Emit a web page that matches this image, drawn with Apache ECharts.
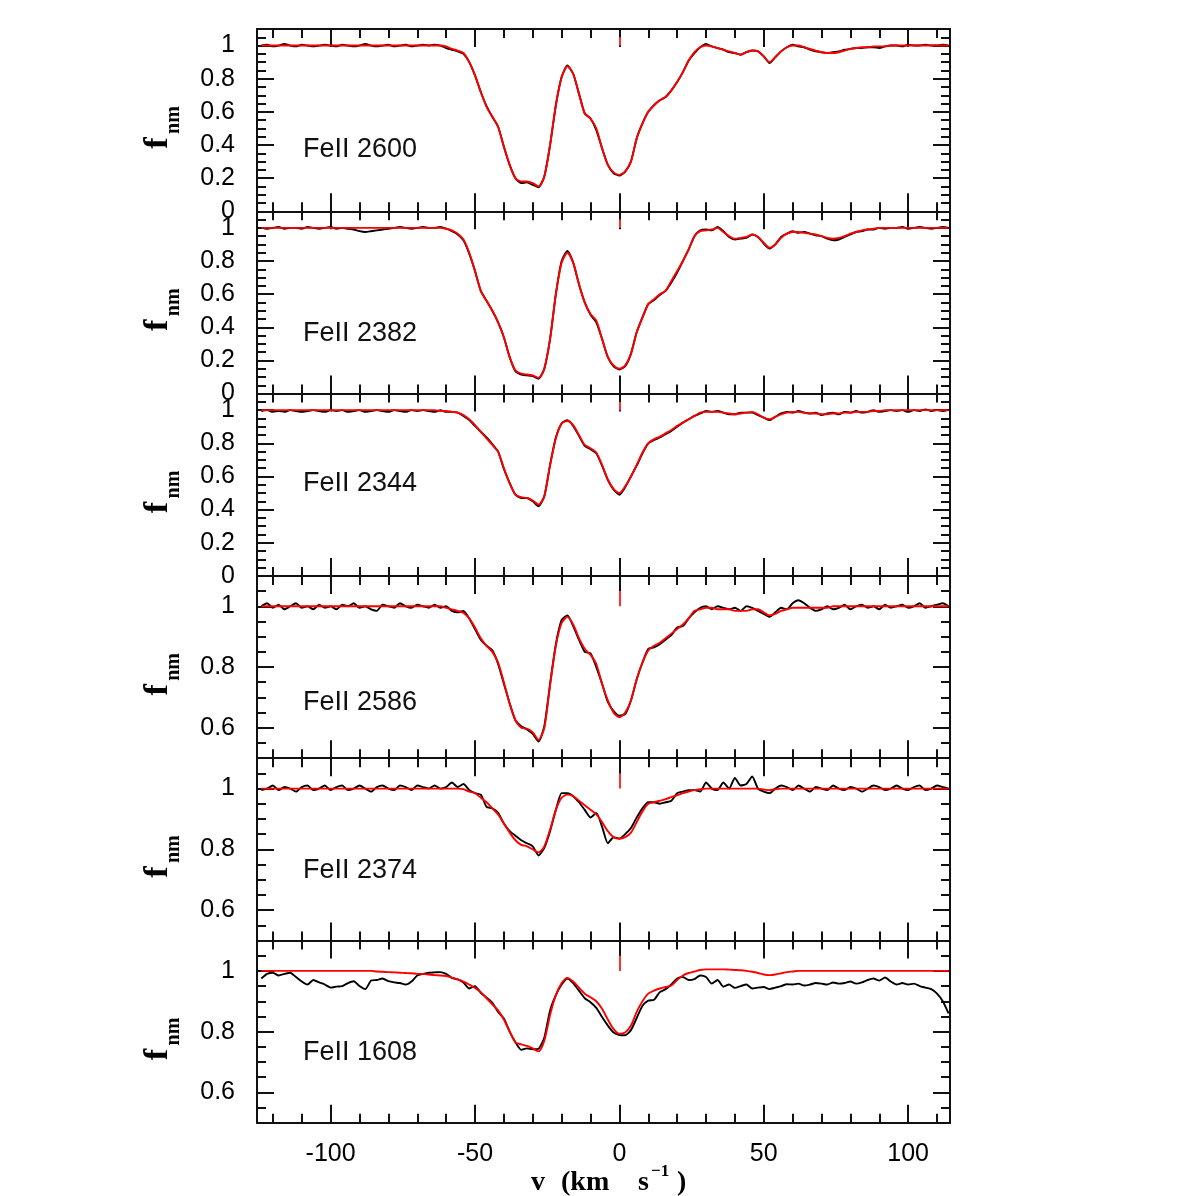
<!DOCTYPE html>
<html><head><meta charset="utf-8">
<script src="https://cdn.jsdelivr.net/npm/echarts@6/dist/echarts.min.js"></script>
<style>html,body{margin:0;padding:0;background:#fff}#chart{width:1196px;height:1196px}</style>
</head><body><div id="chart"></div>
<script>
// ---------------- data ----------------
const velocity = [
 -124,-122,-120,-118,-116,-114,-112,-110,-108,-106,
 -104,-102,-100,-98,-96,-94,-92,-90,-88,-86,
 -84,-82,-80,-78,-76,-74,-72,-70,-68,-66,
 -64,-62,-60,-58,-56,-54,-52,-50,-48,-46,
 -44,-42,-40,-38,-36,-34,-32,-30,-28,-26,
 -24,-22,-20,-18,-16,-14,-12,-10,-8,-6,
 -4,-2,0,2,4,6,8,10,12,14,
 16,18,20,22,24,26,28,30,32,34,
 36,38,40,42,44,46,48,50,52,54,
 56,58,60,62,64,66,68,70,72,74,
 76,78,80,82,84,86,88,90,92,94,
 96,98,100,102,104,106,108,110,112,114];

const fe2600Data = [
 1,1.005,0.995,1,1.01,1,0.995,1.005,1,0.995,
 1,1.005,1,0.995,1.005,1,0.995,1,1.01,1,
 0.995,1,1.005,0.995,1,1.005,0.995,1,1.005,1,
 1.005,1,0.985,0.975,0.965,0.95,0.9,0.82,0.72,0.635,
 0.57,0.51,0.39,0.28,0.2,0.17,0.175,0.16,0.145,0.21,
 0.4,0.64,0.81,0.88,0.83,0.71,0.59,0.56,0.49,0.38,
 0.28,0.23,0.215,0.24,0.3,0.44,0.53,0.6,0.64,0.67,
 0.69,0.73,0.78,0.84,0.91,0.955,0.99,1.01,0.995,0.985,
 0.975,0.96,0.955,0.945,0.96,0.97,0.965,0.935,0.895,0.93,
 0.965,0.99,1.005,0.995,0.99,0.975,0.965,0.96,0.955,0.96,
 0.965,0.975,0.98,0.985,0.985,0.99,0.99,0.985,0.995,1,
 1,0.995,1.005,1,1,1.005,1,1,1.005,1];
const fe2600Model = [
 1,1,1,1,1,1,1,1,1,1,
 1,1,1,1,1,1,1,1,1,1,
 1,1,1,1,1,1,1,1,1,1,
 1,1,0.995,0.98,0.97,0.955,0.9,0.82,0.72,0.63,
 0.57,0.51,0.39,0.28,0.2,0.18,0.18,0.17,0.15,0.21,
 0.4,0.64,0.81,0.875,0.83,0.71,0.59,0.56,0.5,0.38,
 0.28,0.235,0.22,0.24,0.3,0.44,0.53,0.6,0.64,0.67,
 0.69,0.73,0.78,0.84,0.91,0.96,0.99,1,0.995,0.985,
 0.975,0.965,0.955,0.945,0.96,0.97,0.965,0.935,0.9,0.93,
 0.965,0.99,1,1,0.99,0.98,0.97,0.96,0.955,0.955,
 0.96,0.97,0.98,0.985,0.99,0.99,0.995,0.995,0.995,1,
 1,1,1,1,1,1,1,1,1,1];

const fe2382Data = [
 1,0.995,1,1.005,0.995,1,1,0.995,1.005,1,
 0.995,1,1.005,0.995,1,0.995,0.99,0.98,0.975,0.98,
 0.985,0.99,0.995,1,1.005,1,0.995,1,1.005,1,
 1,1.005,0.995,0.98,0.96,0.925,0.845,0.74,0.62,0.56,
 0.5,0.43,0.34,0.22,0.135,0.115,0.11,0.105,0.09,0.15,
 0.33,0.6,0.8,0.86,0.79,0.66,0.55,0.475,0.43,0.33,
 0.22,0.165,0.145,0.165,0.24,0.37,0.46,0.54,0.565,0.595,
 0.62,0.67,0.73,0.8,0.87,0.95,0.985,0.99,0.985,1.005,
 0.98,0.945,0.93,0.935,0.94,0.96,0.945,0.905,0.875,0.9,
 0.945,0.965,0.98,0.97,0.975,0.965,0.955,0.95,0.935,0.925,
 0.93,0.945,0.96,0.975,0.98,0.99,0.99,1,0.995,1,
 1,1.005,0.995,1,1.005,1,0.995,1,1.005,1];
const fe2382Model = [
 1,1,1,1,1,1,1,1,1,1,
 1,1,1,1,1,1,1,1,1,1,
 1,1,1,1,1,1,1,1,1,1,
 1,1,0.995,0.985,0.965,0.93,0.85,0.74,0.62,0.56,
 0.5,0.43,0.34,0.22,0.14,0.12,0.115,0.11,0.095,0.15,
 0.33,0.6,0.79,0.85,0.79,0.66,0.55,0.48,0.44,0.33,
 0.22,0.17,0.15,0.17,0.24,0.37,0.46,0.54,0.57,0.6,
 0.62,0.68,0.74,0.8,0.87,0.95,0.98,0.985,0.99,1,
 0.975,0.95,0.935,0.94,0.945,0.96,0.945,0.91,0.88,0.9,
 0.94,0.965,0.975,0.975,0.97,0.965,0.96,0.95,0.94,0.935,
 0.94,0.95,0.965,0.975,0.985,0.99,0.995,1,1,1,
 1,1,1,1,1,1,1,1,1,1];

const fe2344Data = [
 0.995,1,0.99,0.995,0.99,1,0.995,0.99,0.995,1,
 0.995,0.99,1,0.995,1,0.99,0.995,1,0.99,0.995,
 1,0.995,0.99,1,0.995,0.99,1,0.995,1,0.995,
 0.99,1,0.99,0.99,0.985,0.965,0.94,0.905,0.87,0.835,
 0.795,0.75,0.645,0.56,0.49,0.47,0.47,0.45,0.42,0.48,
 0.67,0.835,0.92,0.94,0.905,0.845,0.785,0.765,0.74,0.665,
 0.58,0.52,0.49,0.535,0.6,0.665,0.74,0.8,0.82,0.835,
 0.855,0.875,0.9,0.925,0.945,0.965,0.98,0.995,0.99,0.995,
 0.985,0.975,0.975,0.985,0.985,0.985,0.97,0.955,0.94,0.96,
 0.98,0.99,0.985,0.995,0.985,0.98,0.985,0.97,0.98,0.985,
 0.975,0.99,0.985,0.995,0.985,0.99,1,0.99,0.995,1,
 0.995,1,0.99,1,0.995,1.005,0.995,1,0.995,1];
const fe2344Model = [
 1,1,1,1,1,1,1,1,1,1,
 1,1,1,1,1,1,1,1,1,1,
 1,1,1,1,1,1,1,1,1,1,
 1,0.995,0.995,0.99,0.985,0.97,0.945,0.91,0.87,0.83,
 0.79,0.75,0.65,0.56,0.49,0.475,0.47,0.455,0.43,0.48,
 0.67,0.83,0.92,0.935,0.91,0.85,0.79,0.77,0.745,0.67,
 0.58,0.525,0.5,0.54,0.6,0.67,0.745,0.8,0.825,0.84,
 0.86,0.88,0.905,0.925,0.945,0.965,0.985,0.99,0.99,0.99,
 0.985,0.98,0.975,0.98,0.985,0.99,0.975,0.955,0.945,0.96,
 0.975,0.985,0.99,0.99,0.985,0.98,0.98,0.975,0.975,0.98,
 0.98,0.985,0.985,0.99,0.99,0.99,0.995,0.995,1,1,
 1,1,1,1,1,1,1,1,1,1];

const fe2586Data = [
 1,1.01,0.995,1.005,0.99,1,1.01,0.995,1,0.99,
 1.005,0.995,1,0.99,1.005,1,1.01,0.995,1,0.99,
 0.985,1.005,1,0.995,1.01,1,0.995,1.005,1,0.995,
 1.005,0.995,1,0.985,0.98,0.985,0.96,0.925,0.89,0.87,
 0.855,0.81,0.745,0.68,0.625,0.605,0.595,0.58,0.555,0.605,
 0.745,0.875,0.955,0.97,0.935,0.89,0.85,0.845,0.8,0.745,
 0.685,0.655,0.64,0.645,0.69,0.76,0.815,0.86,0.865,0.875,
 0.89,0.905,0.93,0.935,0.96,0.98,0.995,1,0.99,1,
 0.995,0.99,0.995,0.985,1,0.995,0.985,0.975,0.965,0.98,
 0.995,0.99,1.01,1.02,1.01,0.995,0.985,0.99,1,0.99,
 0.995,1.005,0.99,1,1.005,0.995,1,0.99,1.005,0.995,
 1,1.005,0.995,1,1.01,0.995,1,1.005,1.01,1];
const fe2586Model = [
 1,1,1,1,1,1,1,1,1,1,
 1,1,1,1,1,1,1,1,1,1,
 1,1,1,1,1,1,1,1,1,1,
 1,1,0.995,0.99,0.985,0.978,0.96,0.93,0.895,0.87,
 0.85,0.815,0.75,0.68,0.625,0.6,0.597,0.585,0.56,0.6,
 0.74,0.87,0.945,0.965,0.94,0.895,0.86,0.84,0.81,0.745,
 0.69,0.65,0.635,0.65,0.69,0.76,0.815,0.855,0.87,0.88,
 0.895,0.91,0.925,0.94,0.96,0.985,0.99,0.995,0.995,0.99,
 0.99,0.99,0.985,0.985,0.985,0.99,0.99,0.98,0.97,0.975,
 0.985,0.99,0.995,0.995,0.995,0.995,0.995,0.995,0.995,1,
 1,1,1,1,1,1,1,1,1,1,
 1,1,1,1,1,1,1,1,1,1];

const fe2374Data = [
 0.995,1,1.01,0.995,1.005,1,0.99,1.005,1.01,0.995,
 1,1.01,0.995,1.005,1.01,0.995,1,1.01,1,0.99,
 1.005,1.01,1,0.995,1.01,1.005,0.995,1.01,1.005,1,
 1.01,1,1.005,1.02,1.005,1.015,0.995,0.985,0.98,0.94,
 0.935,0.92,0.885,0.86,0.845,0.83,0.82,0.81,0.78,0.805,
 0.86,0.93,0.985,0.985,0.975,0.955,0.93,0.905,0.92,0.875,
 0.82,0.84,0.835,0.85,0.87,0.905,0.935,0.955,0.955,0.95,
 0.955,0.96,0.985,0.99,0.995,0.995,0.99,1.02,1,0.995,
 1.02,1,1.035,1.01,1.015,1.04,1,0.99,0.985,1,
 1.01,1.005,0.995,1.01,1,0.99,1.005,1,0.995,1.01,
 1,0.995,1.005,1,0.99,1,1.01,1.005,0.995,1,
 1.01,1,0.995,1.005,1.01,0.995,1,1.01,1.005,1];
const fe2374Model = [
 1,1,1,1,1,1,1,1,1,1,
 1,1,1,1,1,1,1,1,1,1,
 1,1,1,1,1,1,1,1,1,1,
 1,1,1,1,1,0.998,0.99,0.985,0.97,0.955,
 0.935,0.915,0.885,0.855,0.83,0.815,0.81,0.8,0.79,0.81,
 0.865,0.93,0.97,0.98,0.975,0.96,0.945,0.93,0.915,0.89,
 0.86,0.84,0.835,0.84,0.855,0.89,0.925,0.95,0.955,0.96,
 0.965,0.972,0.978,0.985,0.99,0.995,0.998,1,1,1,
 1,1,1,1,1,1,1,0.997,0.995,0.998,
 1,1,1,1,1,1,1,1,1,1,
 1,1,1,1,1,1,1,1,1,1,
 1,1,1,1,1,1,1,1,1,1];

const fe1608Data = [
 0.975,0.99,0.994,0.985,0.99,0.994,0.98,0.965,0.955,0.97,
 0.962,0.955,0.945,0.948,0.95,0.96,0.966,0.95,0.94,0.968,
 0.97,0.975,0.966,0.962,0.96,0.955,0.965,0.985,0.99,0.994,
 0.995,0.996,0.99,0.977,0.972,0.962,0.942,0.95,0.928,0.912,
 0.895,0.865,0.843,0.8,0.765,0.74,0.745,0.742,0.744,0.78,
 0.87,0.92,0.955,0.975,0.96,0.935,0.91,0.897,0.878,0.848,
 0.82,0.797,0.789,0.788,0.805,0.845,0.885,0.902,0.905,0.93,
 0.94,0.955,0.975,0.98,0.97,0.973,0.985,0.98,0.958,0.97,
 0.948,0.955,0.944,0.95,0.955,0.942,0.945,0.947,0.94,0.945,
 0.95,0.956,0.955,0.958,0.952,0.955,0.96,0.958,0.955,0.962,
 0.958,0.96,0.965,0.958,0.962,0.97,0.975,0.968,0.978,0.965,
 0.955,0.96,0.955,0.958,0.95,0.945,0.94,0.925,0.9,0.86];
const fe1608Model = [
 1,1,1,1,1,1,1,1,1,1,
 1,1,1,1,1,1,1,1,1,1,
 0.998,0.997,0.996,0.995,0.994,0.993,0.992,0.99,0.99,0.988,
 0.986,0.985,0.983,0.978,0.972,0.965,0.955,0.944,0.93,0.91,
 0.89,0.87,0.84,0.8,0.765,0.758,0.753,0.745,0.735,0.77,
 0.855,0.92,0.96,0.977,0.965,0.945,0.925,0.913,0.9,0.875,
 0.84,0.808,0.793,0.797,0.82,0.865,0.9,0.925,0.935,0.942,
 0.947,0.952,0.97,0.985,0.993,0.998,1.003,1.005,1.005,1.005,
 1.005,1.004,1.003,1.002,1,0.997,0.993,0.988,0.986,0.988,
 0.992,0.996,0.998,1,1,1,1,1,1,1,
 1,1,1,1,1,1,1,1,1,1,
 1,1,1,1,1,1,1,1,1,1];

const lineLabels = ['FeII 2600','FeII 2382','FeII 2344','FeII 2586','FeII 2374','FeII 1608'];
const observed = [fe2600Data, fe2382Data, fe2344Data, fe2586Data, fe2374Data, fe1608Data];
const models = [fe2600Model, fe2382Model, fe2344Model, fe2586Model, fe2374Model, fe1608Model];
const panelYMin = [0, 0, 0, 0.5, 0.5, 0.5];
const panelYMax = [1.1, 1.1, 1.1, 1.1, 1.1, 1.1];
const xMinorTicks = [-120,-110,-100,-90,-80,-70,-60,-50,-40,-30,-20,-10,0,10,20,30,40,50,60,70,80,90,100,110];
const xMajorTicks = [-100,-50,0,50,100];
const yMinorTicks = [0.05,0.1,0.15,0.2,0.25,0.3,0.35,0.4,0.45,0.5,0.55,0.6,0.65,0.7,0.75,0.8,0.85,0.9,0.95,1,1.05];
const yMajorTicks = [0,0.2,0.4,0.6,0.8,1];
const zeroMarkVelocity = 0;
const zeroMarkFlux = [1.0, 1.05];

// ---------------- layout ----------------
const X_MIN = -125.5, X_MAX = 114.5;
const GRID_LEFT = 257, GRID_W = 693, GRID_TOP = 29, PANEL_H = 182.3;
const LABEL_OFFSETS = [121, 122, 90, 127, 112, 112];
const AX = '#111';

const grids = [], xAxes = [], yAxes = [], series = [], graphics = [];
const tickStyle = {color: AX, width: 2};

observed.forEach((obs, i) => {
  const top = GRID_TOP + i * PANEL_H;
  const yMin = panelYMin[i], yMax = panelYMax[i];
  grids.push({left: GRID_LEFT, width: GRID_W, top: top, height: PANEL_H, containLabel: false});

  const xb = {type: 'value', gridIndex: i, min: X_MIN, max: X_MAX, splitLine: {show: false}, axisLabel: {show: false}};
  const line = {show: true, onZero: false, lineStyle: {color: AX, width: 2}};
  const noLine = {show: false, onZero: false};
  xAxes.push(Object.assign({}, xb, {position: 'bottom', axisLine: line,
    axisTick: {show: true, inside: true, length: 9, customValues: xMinorTicks, lineStyle: tickStyle},
    axisLabel: i === 5 ? {show: true, customValues: xMajorTicks, margin: 19, fontSize: 25, fontFamily: 'Liberation Sans', color: '#000'} : {show: false}}));
  xAxes.push(Object.assign({}, xb, {position: 'bottom', axisLine: noLine,
    axisTick: {show: true, inside: true, length: 18, customValues: xMajorTicks, lineStyle: tickStyle}}));
  xAxes.push(Object.assign({}, xb, {position: 'top', axisLine: line,
    axisTick: {show: true, inside: true, length: 9, customValues: xMinorTicks, lineStyle: tickStyle}}));
  xAxes.push(Object.assign({}, xb, {position: 'top', axisLine: noLine,
    axisTick: {show: true, inside: true, length: 18, customValues: xMajorTicks, lineStyle: tickStyle}}));

  const minorY = yMinorTicks.filter(v => v > yMin + 1e-9);
  const majorY = yMajorTicks.filter(v => v >= yMin + 0.05 || yMin === 0);
  const yb = {type: 'value', gridIndex: i, min: yMin, max: yMax, splitLine: {show: false}, axisLabel: {show: false}};
  yAxes.push(Object.assign({}, yb, {position: 'left', axisLine: line,
    axisTick: {show: true, inside: true, length: 9, customValues: minorY, lineStyle: tickStyle}}));
  yAxes.push(Object.assign({}, yb, {position: 'left', axisLine: noLine,
    axisTick: {show: true, inside: true, length: 17, customValues: majorY, lineStyle: tickStyle},
    axisLabel: {show: true, customValues: majorY, margin: 22, fontSize: 25, fontFamily: 'Liberation Sans', color: '#000',
      formatter: v => String(Math.round(v * 100) / 100)}}));
  yAxes.push(Object.assign({}, yb, {position: 'right', axisLine: line,
    axisTick: {show: true, inside: true, length: 9, customValues: minorY, lineStyle: tickStyle}}));
  yAxes.push(Object.assign({}, yb, {position: 'right', axisLine: noLine,
    axisTick: {show: true, inside: true, length: 17, customValues: majorY, lineStyle: tickStyle}}));

  series.push({type: 'line', name: lineLabels[i] + ' data', xAxisIndex: 4 * i, yAxisIndex: 4 * i,
    data: velocity.map((v, k) => [v, obs[k]]), symbol: 'none', showSymbol: false, smooth: 0.2,
    lineStyle: {color: '#000', width: 1.9}, z: 2});
  series.push({type: 'line', name: lineLabels[i] + ' model', xAxisIndex: 4 * i, yAxisIndex: 4 * i,
    data: velocity.map((v, k) => [v, models[i][k]]), symbol: 'none', showSymbol: false, smooth: 0.25,
    lineStyle: {color: '#ff0000', width: 1.9}, z: 3,
    markLine: {silent: true, symbol: 'none', label: {show: false},
      lineStyle: {color: '#ff3030', width: 2, type: 'solid'},
      data: [[{coord: [zeroMarkVelocity, zeroMarkFlux[0]]}, {coord: [zeroMarkVelocity, zeroMarkFlux[1]]}]]}});

  graphics.push({type: 'text', x: 303, y: top + LABEL_OFFSETS[i],
    style: {text: lineLabels[i], font: '27px "Liberation Sans"', fill: '#111', align: 'left', verticalAlign: 'middle', textAlign: 'left', textVerticalAlign: 'middle'}});
  graphics.push({type: 'text', x: 158, y: top + 114, rotation: Math.PI / 2,
    style: {text: 'f', font: 'bold 34px "Liberation Serif"', fill: '#000', align: 'center', verticalAlign: 'middle', textAlign: 'center', textVerticalAlign: 'middle'}});
  graphics.push({type: 'text', x: 174, y: top + 91, rotation: Math.PI / 2,
    style: {text: 'nm', font: 'bold 20px "Liberation Serif"', fill: '#000', align: 'center', verticalAlign: 'middle', textAlign: 'center', textVerticalAlign: 'middle'}});
});

// x-axis title "v (km s^-1)"
const titleParts = [
  {t: 'v', x: 531, y: 1183, f: 'bold 28px "Liberation Serif"'},
  {t: '(km', x: 561, y: 1183, f: 'bold 28px "Liberation Serif"'},
  {t: 's', x: 638, y: 1183, f: 'bold 28px "Liberation Serif"'},
  {t: '\u22121', x: 651, y: 1172, f: 'bold 17px "Liberation Serif"'},
  {t: ')', x: 677, y: 1183, f: 'bold 28px "Liberation Serif"'}
];
titleParts.forEach(p => graphics.push({type: 'text', x: p.x, y: p.y,
  style: {text: p.t, font: p.f, fill: '#000', align: 'left', verticalAlign: 'middle', textAlign: 'left', textVerticalAlign: 'middle'}}));

const chart = echarts.init(document.getElementById('chart'), null, {renderer: 'canvas'});
chart.setOption({
  animation: false,
  backgroundColor: '#fff',
  grid: grids,
  xAxis: xAxes,
  yAxis: yAxes,
  series: series,
  graphic: graphics
});
</script></body></html>
